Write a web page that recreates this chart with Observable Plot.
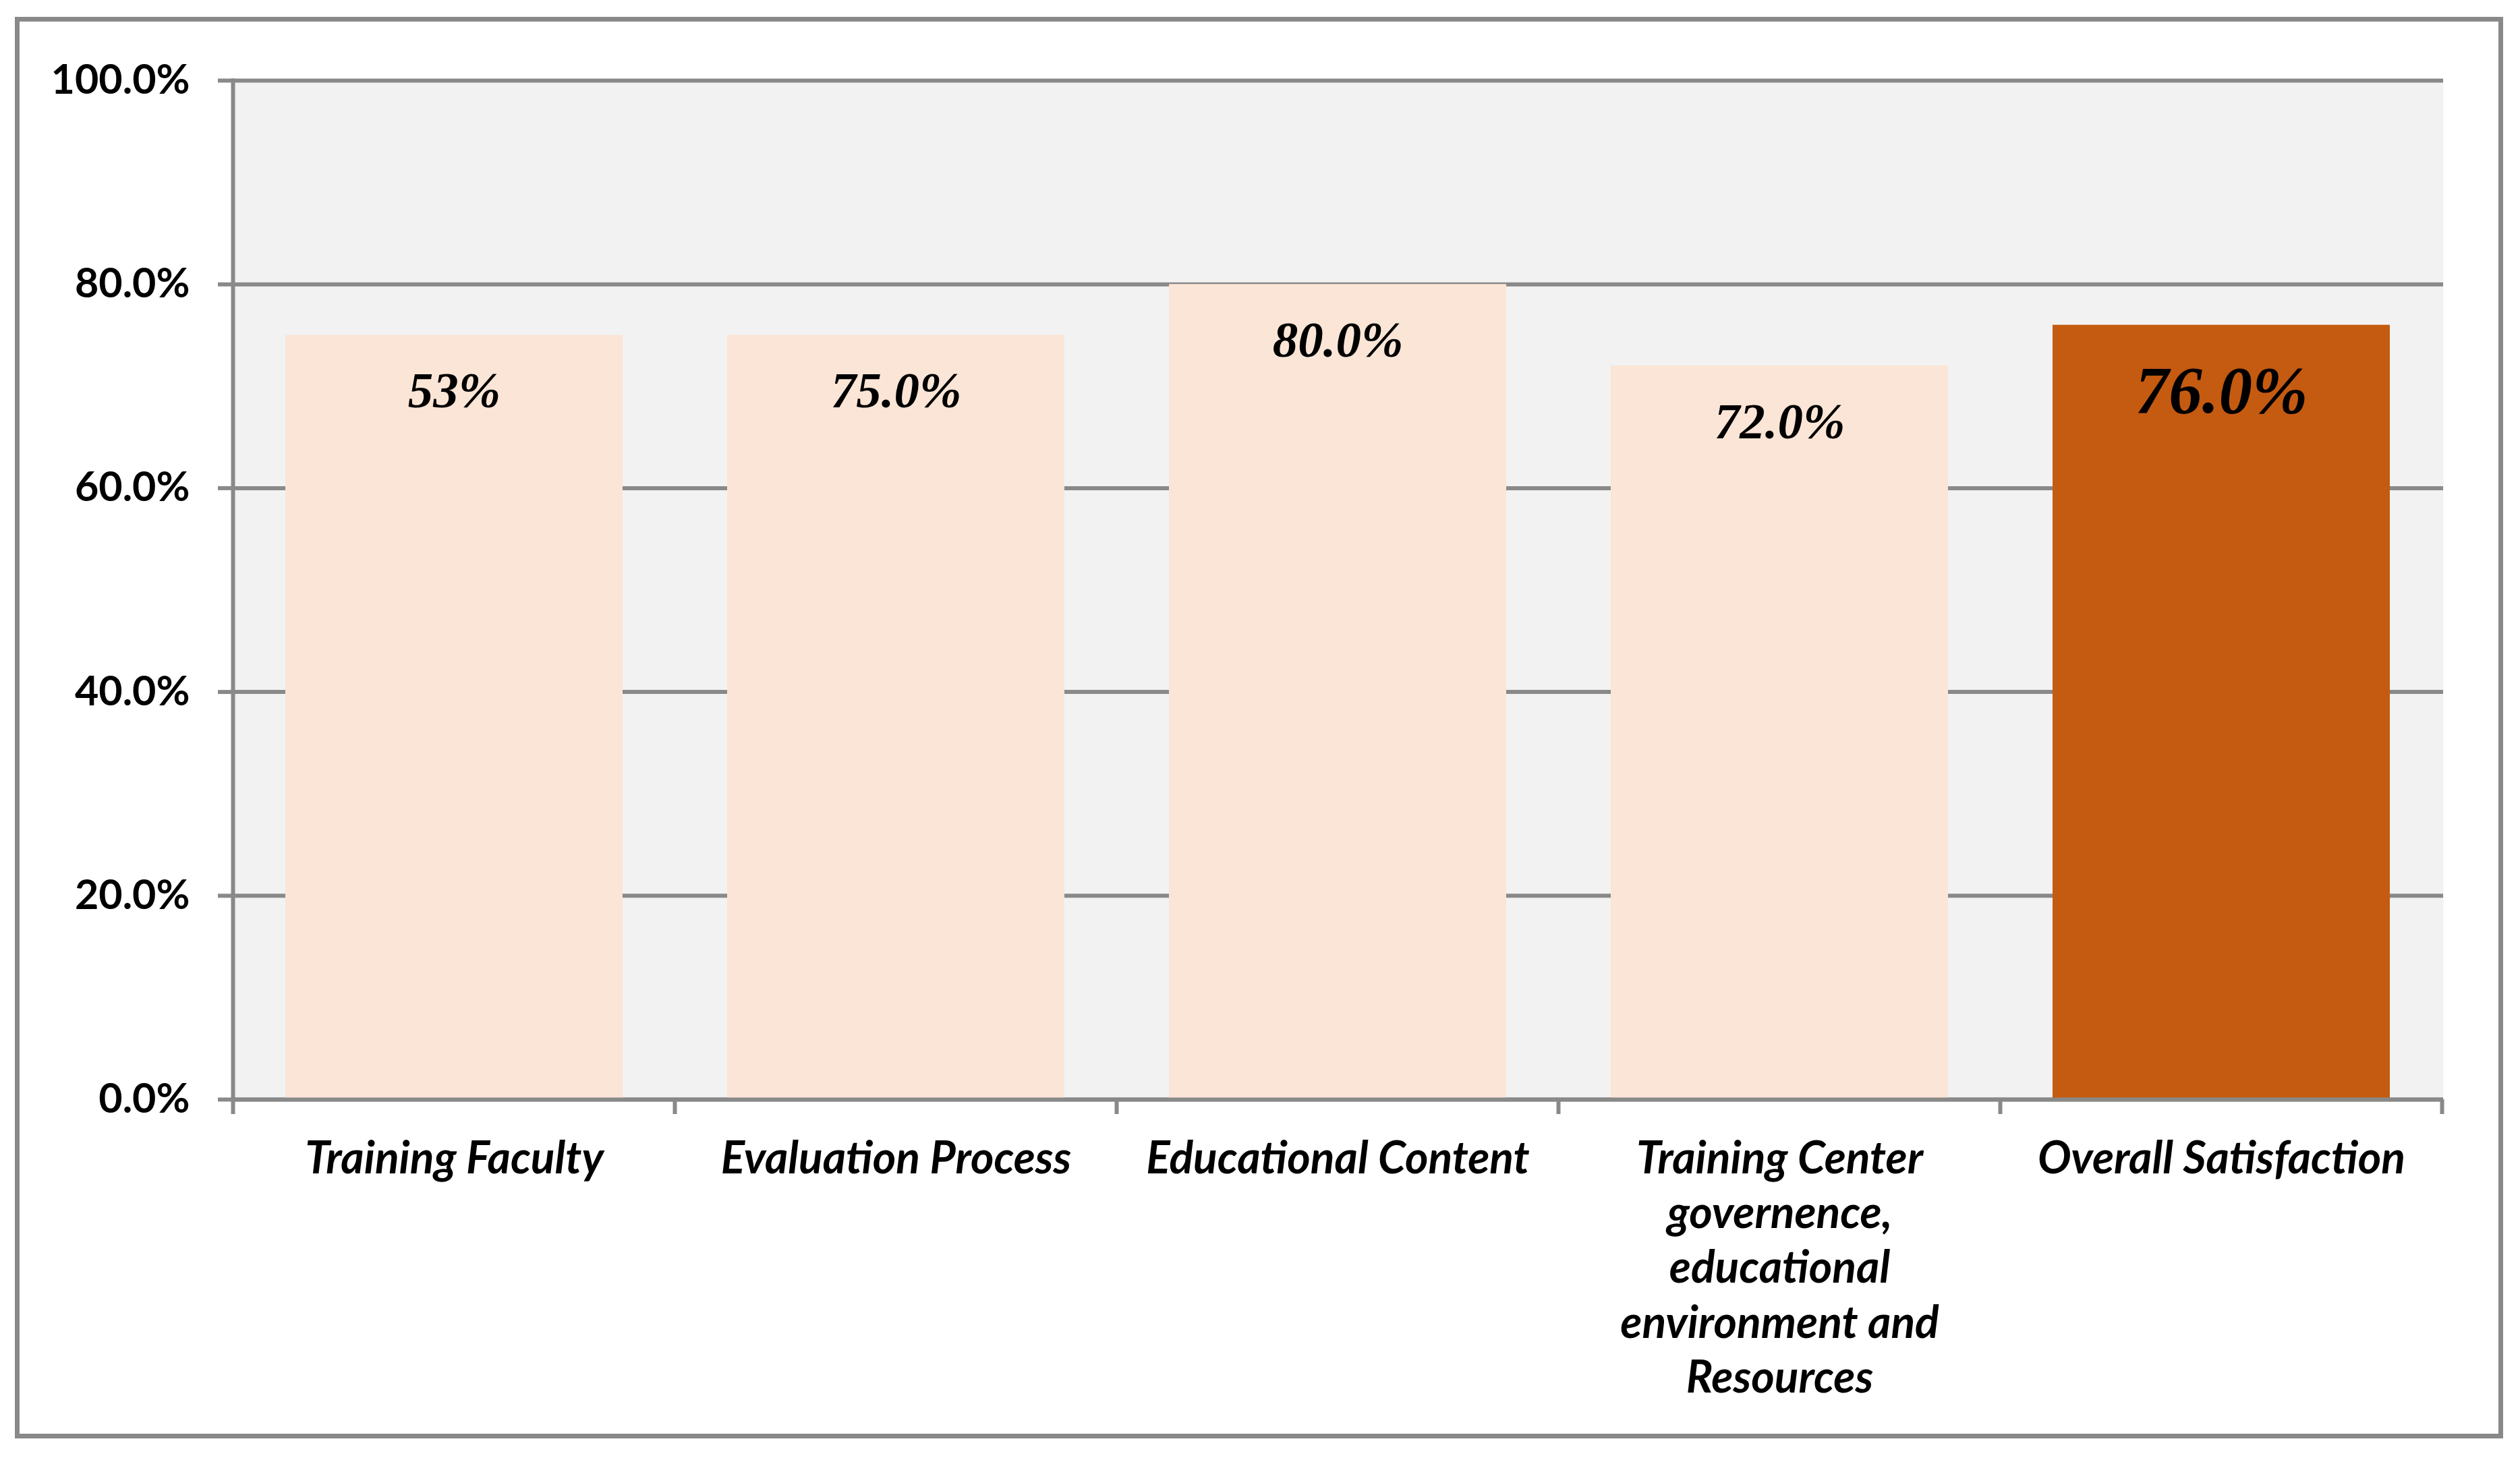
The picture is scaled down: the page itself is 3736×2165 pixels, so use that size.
<!DOCTYPE html>
<html><head><meta charset="utf-8">
<script src="https://cdn.jsdelivr.net/npm/d3@7"></script>
<script src="https://cdn.jsdelivr.net/npm/@observablehq/plot@0.6"></script>
<style>
html,body{margin:0;padding:0;background:#fff;}
#wrap{position:relative;width:3736px;height:2165px;}
#border{position:absolute;left:22px;top:25px;width:3689px;height:2108px;border:7px solid #898989;box-sizing:border-box;pointer-events:none;}
svg{display:block;}
</style>
</head><body>
<div id="wrap"><div id="chart"></div><div id="border"></div></div>
<script>
const categories = ["Training Faculty","Evaluation Process","Educational Content","Training Center governence, educational environment and Resources","Overall Satisfaction"];
const tickLabels = ["Training Faculty","Evaluation Process","Educational Content","Training Center\ngovernence,\neducational\nenvironment and\nResources","Overall Satisfaction"];
const values = [75, 75, 80, 72, 76];
const valueLabels = ["53%","75.0%","80.0%","72.0%","76.0%"];
const yTicks = [0, 20, 40, 60, 80, 100];
const highlight = "Overall Satisfaction";

const data = categories.map((c, i) => ({category: c, value: values[i], label: valueLabels[i], tick: tickLabels[i]}));
const GRAY = "#898989";

function boundaryTicks(index, scales, values, dims, context) {
  const x = scales.x, y = scales.y;
  const dom = x.domain();
  const bw = x.bandwidth();
  const step = x.step();
  const g = d3.create("svg:g");
  const y0 = y(0);
  for (let i = 0; i <= dom.length; i++) {
    const xi = i < dom.length ? x(dom[i]) - (step - bw) / 2 : x(dom[dom.length - 1]) + bw + (step - bw) / 2;
    g.append("line").attr("x1", xi).attr("x2", xi).attr("y1", y0).attr("y2", y0 + 22)
      .attr("stroke", GRAY).attr("stroke-width", 6);
  }
  return g.node();
}

const chart = Plot.plot({
  width: 3736,
  height: 2165,
  marginLeft: 345,
  marginRight: 114,
  marginTop: 119,
  marginBottom: 535,
  style: {fontFamily: "Lato", fontSize: "61px", fontWeight: "bold", color: "#000", background: "transparent"},
  x: {domain: categories, paddingInner: 0.236, paddingOuter: 0.118, axis: null},
  y: {domain: [0, 100], axis: null},
  marks: [
    Plot.frame({fill: "#f2f2f2", stroke: null}),
    Plot.gridY(yTicks, {stroke: GRAY, strokeOpacity: 1, strokeWidth: 6}),
    Plot.barY(data, {x: "category", y: "value", fill: d => d.category === highlight ? "#c55a11" : "#fbe5d6"}),
    Plot.frame({anchor: "left", stroke: GRAY, strokeWidth: 6}),
    Plot.ruleY([0], {stroke: GRAY, strokeWidth: 6}),
    Plot.axisY(yTicks, {label: null, tickSize: 22, tickPadding: 42, stroke: GRAY, strokeWidth: 6, tickFormat: d => d.toFixed(1) + "%", fontSize: 61, fontWeight: "bold"}),
    boundaryTicks,
    Plot.text(data, {x: "category", text: "tick", frameAnchor: "bottom", lineAnchor: "top", dy: 52, lineHeight: 1.23, fontSize: 66, fontWeight: "bold", fontStyle: "italic", fill: "#000"}),
    Plot.text(data.filter(d => d.category !== highlight), {x: "category", y: "value", text: "label", dy: 83, fontFamily: "Liberation Serif", fontSize: 75, fontWeight: "bold", fontStyle: "italic", fill: "#000"}),
    Plot.text(data.filter(d => d.category === highlight), {x: "category", y: "value", text: "label", dy: 98, fontFamily: "Liberation Serif", fontSize: 99, fontWeight: "bold", fontStyle: "italic", fill: "#000"})
  ]
});
document.getElementById("chart").appendChild(chart);
</script>
</body></html>
